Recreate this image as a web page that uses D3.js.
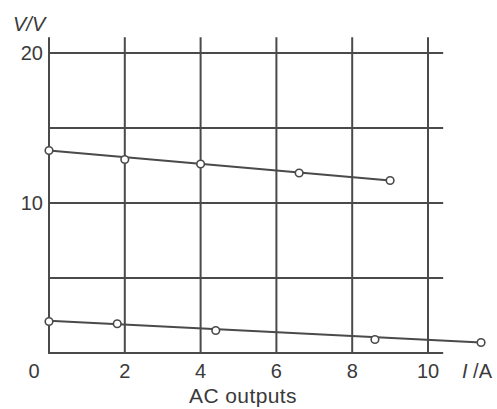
<!DOCTYPE html>
<html>
<head>
<meta charset="utf-8">
<script src="https://cdn.jsdelivr.net/npm/d3@7"></script>
<style>
  body { margin: 0; background: #fff; }
  svg { display: block; }
  text { font-family: "Liberation Sans", Arial, sans-serif; fill: #3a3a3a; }
</style>
</head>
<body>
<div id="chart"></div>
<script>
// grid / tick values
const xTicks = [0, 2, 4, 6, 8, 10];
const yGrid = [0, 5, 10, 15, 20];
const yLabels = [10, 20];

// measured points (current I in A, voltage V in V)
const upperI = [0, 2, 4, 6.6, 9];
const upperV = [13.5, 12.9, 12.6, 12.0, 11.5];
const lowerI = [0, 1.8, 4.4, 8.6, 11.4];
const lowerV = [2.1, 1.95, 1.5, 0.9, 0.7];

// fitted straight lines, [start, end]
const upperFitI = [0, 9];
const upperFitV = [13.5, 11.5];
const lowerFitI = [0, 11.4];
const lowerFitV = [2.15, 0.7];

const width = 497;
const height = 409;
const ink = '#4a4a4a';

const svg = d3.select('#chart').append('svg')
  .attr('width', width)
  .attr('height', height);

const x = d3.scaleLinear().domain([0, 10]).range([49, 428]);
const y = d3.scaleLinear().domain([0, 20]).range([353, 53]);

const grid = svg.append('g')
  .attr('stroke', ink)
  .attr('stroke-width', 2);

// vertical grid lines (the one at 0 is the V axis)
grid.selectAll('line.v')
  .data(xTicks)
  .enter().append('line')
  .attr('class', 'v')
  .attr('x1', d => x(d)).attr('x2', d => x(d))
  .attr('y1', y(0) + 1).attr('y2', y(21.05));

// horizontal grid lines (the one at 0 is the I axis)
grid.selectAll('line.h')
  .data(yGrid)
  .enter().append('line')
  .attr('class', 'h')
  .attr('x1', x(0) - 1).attr('x2', x(10.4))
  .attr('y1', d => y(d)).attr('y2', d => y(d));

// tick labels
svg.selectAll('text.xt')
  .data(xTicks)
  .enter().append('text')
  .attr('class', 'xt')
  .attr('x', d => (d === 0 ? x(d) - 15 : x(d)))
  .attr('y', 378)
  .attr('text-anchor', 'middle')
  .attr('font-size', 20)
  .text(d => d);

svg.selectAll('text.yt')
  .data(yLabels)
  .enter().append('text')
  .attr('class', 'yt')
  .attr('x', x(0) - 6)
  .attr('y', d => y(d))
  .attr('dy', '0.35em')
  .attr('text-anchor', 'end')
  .attr('font-size', 20)
  .text(d => d);

// axis titles
svg.append('text')
  .attr('x', 13).attr('y', 31)
  .attr('font-size', 20)
  .attr('font-style', 'italic')
  .text('V/V');

const xTitle = svg.append('text')
  .attr('x', 462).attr('y', 378)
  .attr('font-size', 20);
xTitle.append('tspan').attr('font-style', 'italic').text('I');
xTitle.append('tspan').text(' /A');

svg.append('text')
  .attr('x', 243).attr('y', 403)
  .attr('text-anchor', 'middle')
  .attr('font-size', 21)
  .attr('letter-spacing', 0.4)
  .text('AC outputs');

// fitted lines
const line = d3.line().x(d => x(d[0])).y(d => y(d[1]));
[[upperFitI, upperFitV], [lowerFitI, lowerFitV]].forEach(([is, vs]) => {
  svg.append('path')
    .datum(is.map((d, i) => [d, vs[i]]))
    .attr('d', line)
    .attr('fill', 'none')
    .attr('stroke', ink)
    .attr('stroke-width', 2.2);
});

// data points
[[upperI, upperV], [lowerI, lowerV]].forEach(([is, vs]) => {
  svg.append('g').selectAll('circle')
    .data(is.map((d, i) => [d, vs[i]]))
    .enter().append('circle')
    .attr('cx', d => x(d[0]))
    .attr('cy', d => y(d[1]))
    .attr('r', 3.8)
    .attr('fill', '#fff')
    .attr('stroke', ink)
    .attr('stroke-width', 1.6);
});
</script>
</body>
</html>
